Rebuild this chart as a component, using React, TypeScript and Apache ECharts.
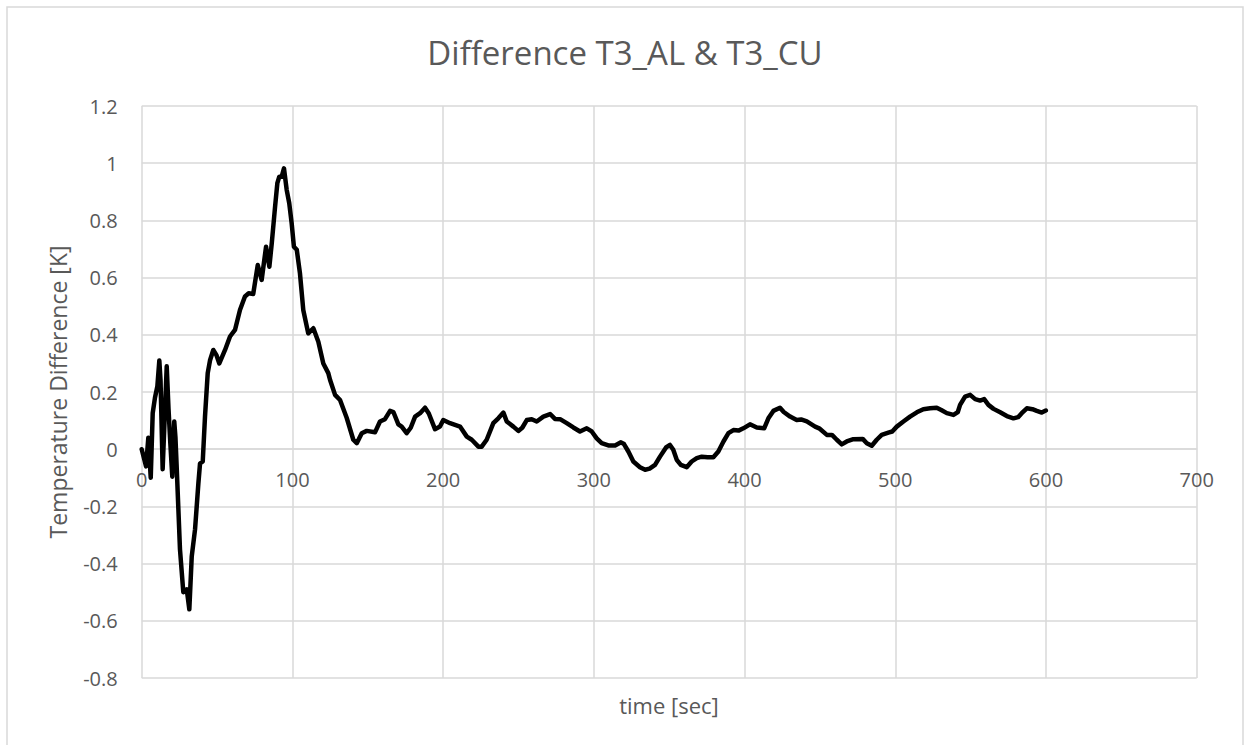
import React, { useEffect, useRef } from "react";
import * as echarts from "echarts";

const TITLE = "Difference T3_AL & T3_CU";
const X_TITLE = "time [sec]";
const Y_TITLE = "Temperature Difference [K]";

const times: number[] = [
  0, 2.9, 4.4, 6, 7.3, 8.8, 10.4, 11.7, 12.5, 13.9, 16.6, 17.8, 19.0, 20.3, 21.6, 22.4, 23.2, 25.4, 27.6, 29.9,
  31.6, 33.2, 35.4, 37.6, 38.7, 40.5, 42, 43.8, 45.3, 47.5, 49.5, 51.5, 55.3, 58.6, 61.9, 65.2, 68.5, 71, 74, 77,
  79.6, 82.5, 84.7, 86.3, 88.5, 90, 91.3, 92.9, 94.4, 96.2, 97.9, 99.5, 101, 102.9, 105, 107.2, 110.5, 113.9, 117.2, 120.5,
  123.8, 125, 128.3, 131.6, 136, 140.4, 142.7, 146, 149.3, 154.8, 158.1, 161.4, 164.8, 167, 170.3, 172.5, 175.8, 178.5, 181.4, 184.7,
  188, 190.5, 194.6, 197.9, 200.1, 204.6, 207.9, 211.2, 215.7, 219, 223.4, 225.6, 228.9, 233.3, 236.6, 240, 242.2, 246.6, 249.9, 252.5,
  255.5, 258.8, 262.1, 266.5, 271, 274.2, 277.6, 282, 286.4, 290.8, 295.3, 298.6, 301.9, 305.2, 309.6, 314.1, 318, 320, 322.9, 326.2,
  330.6, 334, 337, 340.6, 343.9, 347.9, 350.5, 352.7, 355, 357.7, 361.6, 364.9, 368.3, 371.6, 375.5, 379.3, 382.6, 386, 389.3, 392.6,
  396, 399.2, 403.6, 408.1, 413, 415.8, 419.1, 423.5, 426, 430.2, 434.6, 437.5, 441.3, 446.8, 449.5, 454.6, 458, 461.2, 464.5, 467.8,
  472.2, 478.4, 481.1, 484.4, 487.7, 491, 495.4, 498, 501, 505.4, 509.8, 514.3, 518.6, 523.1, 527.5, 530.5, 534.2, 538.6, 541.5, 543,
  546.3, 549.7, 553, 556.3, 559, 561.8, 565.2, 569.6, 574, 578.4, 581.5, 583.9, 587.3, 591, 593.9, 597.2, 599.9,
];

const diffs: number[] = [
  0.0, -0.06, 0.04, -0.1, 0.126, 0.18, 0.22, 0.31, 0.24, -0.07, 0.29, 0.14, 0.02, -0.096, 0.097, 0.04, -0.06, -0.35, -0.5, -0.49,
  -0.56, -0.375, -0.28, -0.12, -0.05, -0.043, 0.114, 0.266, 0.31, 0.347, 0.33, 0.3, 0.347, 0.394, 0.417, 0.487, 0.534, 0.545, 0.543, 0.644,
  0.592, 0.708, 0.638, 0.72, 0.848, 0.93, 0.953, 0.953, 0.982, 0.907, 0.86, 0.79, 0.708, 0.697, 0.615, 0.487, 0.405, 0.423, 0.376, 0.3,
  0.266, 0.242, 0.19, 0.172, 0.11, 0.033, 0.021, 0.056, 0.064, 0.059, 0.097, 0.105, 0.134, 0.13, 0.087, 0.079, 0.056, 0.075, 0.114, 0.126,
  0.145, 0.125, 0.07, 0.079, 0.102, 0.091, 0.085, 0.079, 0.044, 0.033, 0.009, 0.009, 0.033, 0.091, 0.108, 0.128, 0.097, 0.079, 0.064, 0.075,
  0.102, 0.105, 0.097, 0.114, 0.123, 0.106, 0.105, 0.091, 0.076, 0.062, 0.073, 0.062, 0.038, 0.021, 0.013, 0.013, 0.024, 0.018, -0.008, -0.043,
  -0.063, -0.072, -0.068, -0.055, -0.026, 0.006, 0.015, -0.002, -0.037, -0.055, -0.063, -0.043, -0.031, -0.026, -0.028, -0.028, -0.008, 0.027, 0.056, 0.067,
  0.065, 0.073, 0.087, 0.076, 0.073, 0.108, 0.134, 0.145, 0.13, 0.114, 0.102, 0.104, 0.097, 0.079, 0.073, 0.05, 0.05, 0.033, 0.017, 0.027,
  0.035, 0.036, 0.021, 0.012, 0.033, 0.05, 0.058, 0.062, 0.079, 0.097, 0.114, 0.129, 0.14, 0.143, 0.145, 0.137, 0.126, 0.12, 0.13, 0.155,
  0.184, 0.19, 0.175, 0.17, 0.175, 0.155, 0.141, 0.129, 0.116, 0.108, 0.112, 0.126, 0.143, 0.14, 0.134, 0.128, 0.135,
];

const xTicks = { min: 0, max: 700, interval: 100 };
const yTicks = { min: -0.8, max: 1.2, interval: 0.2 };

const FONT = "'Open Sans', 'Noto Sans', sans-serif";
const TEXT = "#595959";
const GRID = "#d9d9d9";

const GRID_TOP = 106;
const GRID_BOTTOM = 67;
const CHART_H = 745;

export default function App() {
  const ref = useRef<HTMLDivElement>(null);

  useEffect(() => {
    if (!ref.current) return;
    const chart = echarts.init(ref.current, undefined, { renderer: "svg" });
    const data = times.map((t, i) => [t, diffs[i]]);
    const plotH = CHART_H - GRID_TOP - GRID_BOTTOM;
    // lift the x axis (line + labels) to where y = 0 sits
    const zeroLift = (plotH * (0 - yTicks.min)) / (yTicks.max - yTicks.min);
    chart.setOption({
      animation: false,
      backgroundColor: "#ffffff",
      textStyle: { fontFamily: FONT },
      grid: { left: 141.7, right: 47.3, top: GRID_TOP, bottom: GRID_BOTTOM },
      graphic: [
        {
          type: "rect",
          shape: { x: 7, y: 7, width: 1236, height: 780 },
          style: { fill: "none", stroke: GRID, lineWidth: 1.5 },
          silent: true,
          z: -10,
        },
        {
          type: "text",
          x: 625,
          y: 52,
          style: {
            text: TITLE,
            fill: TEXT,
            font: `33px ${FONT}`,
            align: "center",
            verticalAlign: "middle",
          },
        },
        {
          type: "text",
          x: 58,
          y: 392,
          rotation: Math.PI / 2,
          style: {
            text: Y_TITLE,
            fill: TEXT,
            font: `23px ${FONT}`,
            align: "center",
            verticalAlign: "middle",
          },
        },
        {
          type: "text",
          x: 669,
          y: 705,
          style: {
            text: X_TITLE,
            fill: TEXT,
            font: `22px ${FONT}`,
            align: "center",
            verticalAlign: "middle",
          },
        },
      ],
      xAxis: {
        type: "value",
        min: xTicks.min,
        max: xTicks.max,
        interval: xTicks.interval,
        position: "bottom",
        offset: -zeroLift,
        axisLine: { show: true, onZero: false, lineStyle: { color: GRID, width: 1.5 } },
        axisTick: { show: false },
        axisLabel: { color: TEXT, fontSize: 20, fontFamily: FONT, margin: 20 },
        splitLine: { show: true, lineStyle: { color: GRID, width: 1.5 } },
      },
      yAxis: {
        type: "value",
        min: yTicks.min,
        max: yTicks.max,
        interval: yTicks.interval,
        axisLine: { show: false, onZero: false },
        axisTick: { show: false },
        axisLabel: {
          color: TEXT,
          fontSize: 20,
          fontFamily: FONT,
          margin: 24,
          formatter: (v: number) => String(parseFloat(v.toFixed(1))),
        },
        splitLine: { show: true, lineStyle: { color: GRID, width: 1.5 } },
      },
      series: [
        {
          type: "line",
          data,
          showSymbol: false,
          smooth: false,
          lineStyle: { color: "#000000", width: 4.5, cap: "round", join: "round" },
          z: 5,
        },
      ],
    });
    return () => chart.dispose();
  }, []);

  return (
    <div
      ref={ref}
      style={{ position: "fixed", left: 0, top: 0, width: 1244, height: CHART_H, background: "#fff" }}
    />
  );
}
